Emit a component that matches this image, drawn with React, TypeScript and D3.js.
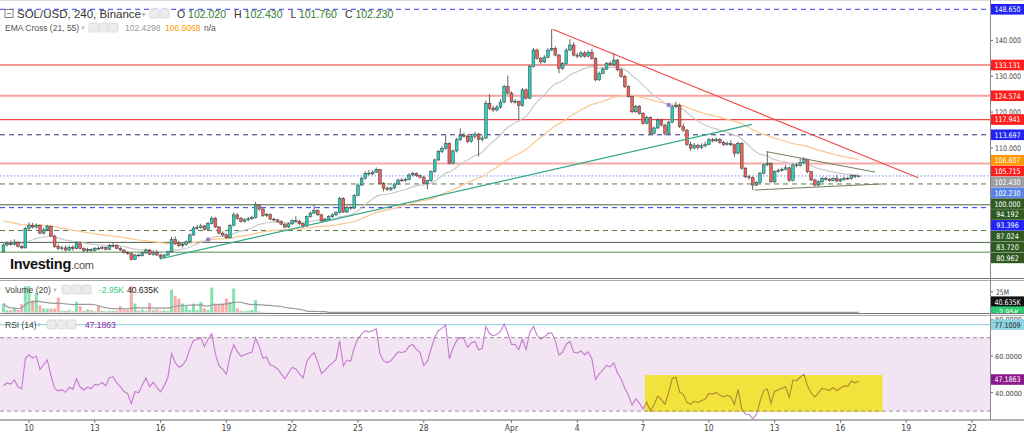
import React from "react";
import * as d3 from "d3";

// ---------- DATA ----------
const FIRST_CANDLE = Date.UTC(2022, 2, 8, 20); // first visible 4h candle
const STEP_MS = 4 * 3600 * 1000;

// [open, high, low, close] per 4h candle
const ohlc: number[][] = [
  [81.2,83.4,80.8,83.0],[83.0,84.0,82.6,83.4],[83.4,84.2,82.8,83.2],[83.2,84.6,82.9,83.8],[83.8,84.0,82.3,82.6],[82.6,82.9,81.9,82.2],
  [82.2,88.0,82.0,87.6],[87.6,89.3,87.2,88.5],[88.5,89.2,87.6,88.0],[88.0,89.0,87.5,88.4],[88.4,88.8,86.0,86.3],[86.3,87.8,85.9,87.2],
  [87.2,88.6,86.8,88.2],[88.2,88.4,85.2,85.5],[85.5,85.8,82.2,82.6],[82.6,83.2,81.6,82.0],[82.0,82.8,81.5,82.2],[82.2,82.9,81.2,81.6],
  [81.6,82.8,81.3,82.4],[82.4,82.9,81.4,82.0],[82.0,84.0,81.8,83.6],[83.6,84.0,81.7,82.0],[82.0,82.3,81.0,81.4],[81.4,82.2,81.0,81.8],
  [81.8,82.1,81.1,81.5],[81.5,82.4,81.2,82.1],[82.1,82.6,81.6,82.0],[82.0,82.7,81.7,82.3],[82.3,82.6,81.5,81.8],[81.8,83.3,81.6,82.8],
  [82.8,83.6,82.3,82.9],[82.9,83.2,81.8,82.1],[82.1,82.4,81.3,81.6],[81.6,81.9,80.6,80.9],[80.9,81.3,80.3,80.6],[80.6,80.8,78.6,79.0],
  [79.0,80.5,78.8,80.2],[80.2,80.6,79.7,80.0],[80.0,81.2,79.8,80.8],[80.8,82.0,80.5,81.6],[81.6,81.9,80.2,80.4],[80.4,81.3,80.0,80.9],
  [80.9,81.4,79.9,80.2],[80.2,80.5,79.0,79.6],[79.6,80.5,79.3,80.2],[80.2,81.4,79.9,81.1],[81.1,85.3,80.9,84.5],[84.5,85.4,83.0,83.4],
  [83.4,84.2,82.4,82.8],[82.8,83.6,82.3,83.1],[83.1,84.3,82.8,83.9],[83.9,86.2,83.6,85.8],[85.8,88.3,85.5,87.7],[87.7,88.6,87.2,87.9],
  [87.9,88.9,87.5,88.3],[88.3,88.6,87.0,87.4],[87.4,89.4,87.2,89.0],[89.0,91.0,88.7,90.4],[90.4,90.8,87.8,88.0],[88.0,88.3,86.0,86.3],
  [86.3,86.8,85.4,85.8],[85.8,86.2,84.7,85.0],[85.0,88.8,84.8,88.5],[88.5,92.0,88.2,91.4],[91.4,91.8,90.0,90.4],[90.4,90.8,89.2,89.6],
  [89.6,90.5,89.3,90.0],[90.0,90.8,89.6,90.3],[90.3,91.2,90.0,90.6],[90.6,95.0,90.4,94.2],[94.2,94.4,92.6,93.0],[93.0,93.3,90.8,91.2],
  [91.2,91.9,90.8,91.5],[91.5,91.8,89.9,90.2],[90.2,90.6,89.6,90.0],[90.0,90.3,89.2,89.6],[89.6,89.9,88.5,88.8],[88.8,89.1,87.6,88.0],
  [88.0,89.2,87.7,88.9],[88.9,90.1,88.6,89.8],[89.8,91.0,89.3,89.6],[89.6,90.0,88.6,88.9],[88.9,89.2,87.8,88.3],[88.3,91.2,88.0,90.9],
  [90.9,92.3,90.6,91.9],[91.9,94.2,91.6,92.6],[92.6,92.9,91.1,91.4],[91.4,91.7,89.3,89.7],[89.7,90.6,89.4,90.2],[90.2,91.3,89.9,90.9],
  [90.9,91.8,90.5,91.4],[91.4,92.4,91.0,92.0],[92.0,96.4,91.8,96.0],[96.0,96.3,91.9,92.2],[92.2,94.0,91.9,93.5],[93.5,94.0,92.8,93.3],
  [93.3,97.2,93.0,96.8],[96.8,100.2,96.5,99.7],[99.7,102.0,99.4,101.6],[101.6,103.5,101.2,103.0],[103.0,103.8,102.3,102.8],[102.8,103.8,102.5,103.3],
  [103.3,104.6,103.0,104.0],[104.0,104.2,99.9,100.2],[100.2,100.5,97.9,98.8],[98.8,99.3,98.1,98.5],[98.5,99.2,98.0,98.9],[98.9,100.3,98.6,100.0],
  [100.0,101.5,99.7,101.1],[101.1,101.6,100.6,101.0],[101.0,101.7,100.6,101.2],[101.2,103.0,101.0,102.5],[102.5,103.4,102.1,102.9],[102.9,103.2,102.0,102.3],
  [102.3,102.6,101.5,101.9],[101.9,102.2,99.9,100.2],[100.2,101.2,98.5,100.9],[100.9,103.8,100.6,103.4],[103.4,107.0,103.1,106.7],[106.7,109.5,106.4,109.0],
  [109.0,110.5,108.6,109.9],[109.9,113.6,109.6,111.3],[111.3,111.6,105.4,105.8],[105.8,109.6,105.5,109.2],[109.2,112.8,108.8,112.3],[112.3,115.5,112.0,113.6],
  [113.6,114.3,112.9,113.3],[113.3,113.8,111.4,111.8],[111.8,113.7,111.5,113.3],[113.3,114.5,112.6,113.9],[113.9,114.2,107.6,112.4],[112.4,113.5,111.8,112.8],
  [112.8,123.2,112.5,122.5],[122.5,125.0,120.6,121.1],[121.1,121.8,120.1,120.6],[120.6,122.0,120.2,121.4],[121.4,123.6,121.0,122.8],[122.8,127.6,122.5,127.1],
  [127.1,130.2,124.9,125.3],[125.3,125.8,122.5,122.9],[122.9,123.6,122.4,123.0],[123.0,123.3,117.8,121.9],[121.9,126.8,121.5,126.2],[126.2,126.6,123.5,123.9],
  [123.9,133.2,123.6,132.7],[132.7,137.9,132.4,137.3],[137.3,137.7,134.6,135.0],[135.0,135.4,133.5,134.0],[134.0,135.8,133.7,135.3],[135.3,137.8,135.0,137.3],
  [137.3,143.1,137.0,137.8],[137.8,138.3,135.5,135.9],[135.9,136.2,130.8,132.2],[132.2,134.0,131.8,133.5],[133.5,137.8,133.2,137.3],[137.3,140.3,137.0,138.7],
  [138.7,139.5,135.5,135.9],[135.9,136.5,135.0,135.6],[135.6,137.0,135.2,136.5],[136.5,137.0,135.2,135.6],[135.6,137.2,135.3,136.7],[136.7,137.6,134.6,135.0],
  [135.0,135.3,128.6,129.0],[129.0,131.3,128.7,130.8],[130.8,132.5,130.5,132.0],[132.0,134.0,131.7,133.6],[133.6,134.2,132.8,133.2],[133.2,136.4,132.9,134.5],
  [134.5,134.8,131.4,131.8],[131.8,132.2,129.6,130.0],[130.0,130.4,126.7,127.1],[127.1,127.5,124.0,124.3],[124.3,124.6,119.7,120.1],[120.1,122.0,119.8,121.6],
  [121.6,122.0,119.3,119.7],[119.7,120.0,116.5,116.9],[116.9,119.0,116.6,118.5],[118.5,118.8,113.7,114.1],[114.1,116.0,113.8,115.6],[115.6,118.3,115.3,117.8],
  [117.8,118.2,116.0,116.4],[116.4,116.8,113.5,114.1],[114.1,117.6,113.8,117.2],[117.2,121.9,116.9,121.5],[121.5,122.9,121.1,121.9],[121.9,122.4,115.6,116.0],
  [116.0,116.8,114.4,115.0],[115.0,115.3,110.6,111.0],[111.0,111.8,109.2,110.0],[110.0,111.4,109.6,110.8],[110.8,111.2,109.5,110.2],[110.2,111.3,109.7,110.6],
  [110.6,111.8,110.2,111.0],[111.0,112.8,110.8,112.3],[112.3,112.8,111.6,112.0],[112.0,113.0,111.7,112.4],[112.4,112.8,111.2,111.5],[111.5,112.0,110.6,111.0],
  [111.0,111.8,110.7,111.3],[111.3,112.2,110.5,110.9],[110.9,111.2,107.6,108.6],[108.6,111.8,108.3,111.3],[111.3,111.6,104.0,104.4],[104.4,104.7,101.6,102.0],
  [102.0,102.5,101.2,101.8],[101.8,102.1,98.3,99.7],[99.7,100.8,99.4,100.4],[100.4,103.4,100.1,103.0],[103.0,105.7,102.7,105.3],[105.3,109.0,105.0,105.7],
  [105.7,106.0,100.3,100.6],[100.6,103.8,100.3,103.4],[103.4,104.3,103.1,103.8],[103.8,104.6,103.4,104.1],[104.1,105.3,103.8,104.5],[104.5,104.8,100.6,101.0],
  [101.0,105.7,100.7,105.3],[105.3,105.8,104.6,105.1],[105.1,107.1,104.8,106.0],[106.0,107.4,105.6,106.8],[106.8,107.0,103.0,103.4],[103.4,103.7,100.8,101.1],
  [101.1,101.5,99.3,99.7],[99.7,101.0,99.2,100.6],[100.6,102.0,100.3,101.6],[101.6,102.0,100.9,101.3],[101.3,101.7,100.6,101.0],[101.0,101.9,100.7,101.5],
  [101.5,102.4,100.5,100.8],[100.8,101.6,100.6,101.2],[101.2,102.0,100.9,101.6],[101.6,101.9,101.1,101.5],[101.5,102.5,101.2,102.3],[102.3,102.5,101.6,102.02],
  [102.02,102.43,101.76,102.23],
];

// volume per candle, millions
const volumeM: number[] = [
  10.8,2.8,2.8,4.8,3.0,10.0,31.6,31.6,14.8,23.6,
  8.8,4.8,4.8,4.8,4.8,18.0,2.0,2.0,2.8,1.5,
  12.8,7.6,2.0,3.6,2.8,1.5,7.6,2.0,1.5,2.0,
  2.0,2.0,7.6,3.6,3.0,31.6,10.8,2.0,3.6,2.0,
  11.6,2.8,3.6,2.0,2.8,2.0,27.6,19.6,16.8,10.8,
  8.8,3.0,10.8,3.0,12.8,4.8,3.0,30.0,10.8,8.8,
  10.8,16.8,12.8,28.8,4.8,2.0,1.5,2.0,3.0,14.8,
  1.2,0.7,0.45,0.3,0.22,0.18,0.14,0.12,0.1,0.09,
  0.08,0.07,0.07,0.06,0.06,0.05,0.06,0.05,0.05,0.05,
  0.06,0.05,0.08,0.06,0.05,0.05,0.07,0.06,0.06,0.05,
  0.05,0.05,0.05,0.07,0.06,0.05,0.04,0.05,0.05,0.04,
  0.04,0.05,0.05,0.04,0.04,0.05,0.05,0.06,0.07,0.07,
  0.06,0.07,0.08,0.06,0.06,0.06,0.05,0.05,0.04,0.05,
  0.06,0.05,0.09,0.07,0.05,0.04,0.05,0.07,0.07,0.05,
  0.04,0.06,0.06,0.05,0.09,0.08,0.06,0.05,0.05,0.06,
  0.08,0.06,0.07,0.05,0.06,0.06,0.06,0.04,0.04,0.04,
  0.04,0.05,0.08,0.06,0.05,0.05,0.04,0.05,0.05,0.05,
  0.06,0.06,0.07,0.05,0.05,0.06,0.05,0.07,0.05,0.05,
  0.04,0.06,0.05,0.06,0.05,0.07,0.05,0.07,0.06,0.04,
  0.04,0.04,0.04,0.05,0.04,0.04,0.04,0.04,0.03,0.04,
  0.05,0.05,0.09,0.07,0.05,0.07,0.05,0.06,0.06,0.07,
  0.07,0.06,0.04,0.04,0.04,0.06,0.06,0.04,0.05,0.05,
  0.06,0.06,0.06,0.05,0.04,0.04,0.03,0.04,0.04,0.04,
  0.03,0.04,0.04,0.043,0.041,
];

const levelValues = [148.65, 133.131, 124.574, 117.941, 113.697, 105.715, 100.0, 94.192, 93.396, 87.024, 83.72, 80.962];
const ema21Last = 102.4298;
const ema55Last = 106.6068;
const lastOHLC = [102.02, 102.43, 101.76, 102.23];
const rsiLast = 47.1863;
const rsiUpper = 77.1009;
const volumeLast = "40.635K";
const volumeDelta = "-2.95K";
const priceTicks = [80, 90, 100, 110, 120, 130, 140, 150];
const rsiTicks = [40, 60, 80];
const volumeTicks = [25];
const dateTickLabels = ["10", "13", "16", "19", "22", "25", "28", "Apr", "4", "7", "10", "13", "16", "19", "22"];
const dateTickDates = ["2022-03-10", "2022-03-13", "2022-03-16", "2022-03-19", "2022-03-22", "2022-03-25", "2022-03-28",
  "2022-04-01", "2022-04-04", "2022-04-07", "2022-04-10", "2022-04-13", "2022-04-16", "2022-04-19", "2022-04-22"];
const resistanceLine: [string, number][] = [["2022-04-02T21:00:00Z", 143.1], ["2022-04-19T13:00:00Z", 101.7]];
const supportLine: [string, number][] = [["2022-03-15T23:00:00Z", 79.1], ["2022-04-11T23:00:00Z", 116.6]];
const triangleTop: [string, number][] = [["2022-04-12T15:00:00Z", 109.0], ["2022-04-17T14:00:00Z", 103.3]];
const triangleBottom: [string, number][] = [["2022-04-12T02:00:00Z", 98.3], ["2022-04-17T21:00:00Z", 100.0]];
const highlightTimes = ["2022-04-07T02:00:00Z", "2022-04-17T22:00:00Z"];
const highlightRsi = [29.5, 49.6];

// ---------- STYLE ----------
const UI = "'Liberation Sans', Arial, sans-serif";
const NARROW = "'Liberation Sans Narrow', 'DejaVu Sans Condensed', 'Liberation Sans', sans-serif";
const UP = "#2ad0ba";
const DOWN = "#f0625a";
const BLUE_B = "#1f24f2";
const RED_B = "#ff1f1f";
const GREEN_B = "#2f5a22";
const levelStyle = [
  { stroke: "#3b3bf0", w: 1, dash: "5,4", badge: BLUE_B },
  { stroke: "#e53935", w: 1, dash: null, badge: RED_B },
  { stroke: "#f6a0a0", w: 2, dash: null, badge: RED_B },
  { stroke: "#ee4a46", w: 1.2, dash: null, badge: RED_B },
  { stroke: "#2c2c7a", w: 1, dash: "5,4", badge: BLUE_B },
  { stroke: "#f6a8a8", w: 2, dash: null, badge: RED_B },
  { stroke: "#5c7a4c", w: 1, dash: "5,4", badge: GREEN_B },
  { stroke: "#4a6640", w: 1, dash: null, badge: GREEN_B },
  { stroke: "#2f2ff5", w: 1, dash: "5,4", badge: BLUE_B },
  { stroke: "#5c7a4c", w: 1, dash: "5,4", badge: GREEN_B },
  { stroke: "#4f5f45", w: 1, dash: null, badge: GREEN_B },
  { stroke: "#8fb08a", w: 1.5, dash: null, badge: GREEN_B },
];

function Icons({ x, y, n }: { x: number; y: number; n: number }) {
  return (
    <g>
      {d3.range(n).map((k) => (
        <rect key={k} x={x + k * 10} y={y} width={9} height={9} rx={1.5} fill="#ececec" stroke="#d4d4d4" strokeWidth={0.8} />
      ))}
    </g>
  );
}

function AxisText({ x, y, text, w, size = 7.6 }: { x: number; y: number; text: string; w: number; size?: number }) {
  return (
    <text x={x} y={y} fontSize={size} fill="#444" fontFamily={NARROW} textLength={w} lengthAdjust="spacingAndGlyphs">{text}</text>
  );
}

function Badge({ cy, text, bg, fg = "#fff" }: { cy: number; text: string; bg: string; fg?: string }) {
  const w = text.length * 3.75;
  return (
    <g>
      <rect x={991} y={cy - 5.3} width={33} height={10.6} fill={bg} />
      <text x={1007.5 - w / 2} y={cy + 2.9} fontSize={7.6} fill={fg} fontFamily={NARROW}
        textLength={w} lengthAdjust="spacingAndGlyphs">{text}</text>
    </g>
  );
}

export default function App() {
  const x = d3.scaleUtc()
    .domain([new Date("2022-03-10T00:00:00Z"), new Date("2022-04-22T00:00:00Z")])
    .range([29, 972]);
  const y = d3.scaleLinear().domain([80.962, 148.65]).range([252.3, 9.3]);
  const yVol = d3.scaleLinear().domain([0, 25]).range([312.5, 291.7]);
  const yRsi = d3.scaleLinear().domain([40, 60]).range([392.7, 356]);
  const tAt = (i: number) => new Date(FIRST_CANDLE + i * STEP_MS);
  const cxs = ohlc.map((_, i) => x(tAt(i)));

  const closes = ohlc.map((d) => d[3]);
  const ema = (seed: number, period: number) => {
    let e = seed;
    const k = 2 / (period + 1);
    return closes.map((c) => (e = e + k * (c - e)));
  };
  const ema21 = ema(83.5, 21);
  const ema55 = ema(90.0, 55);

  let ag = 0.45, al = 0.75, prev = ohlc[0][0];
  const rsi = closes.map((c) => {
    const ch = c - prev;
    prev = c;
    ag = (ag * 13 + Math.max(ch, 0)) / 14;
    al = (al * 13 + Math.max(-ch, 0)) / 14;
    return 100 - 100 / (1 + ag / al);
  });

  const volMA = volumeM.map((_, i) => d3.mean(volumeM.slice(Math.max(0, i - 19), i + 1)) as number);

  const crosses: number[] = [];
  for (let i = 1; i < closes.length; i++) {
    if (Math.sign(ema21[i] - ema55[i]) !== Math.sign(ema21[i - 1] - ema55[i - 1])) crosses.push(i);
  }

  const line = d3.line<number>().x((_, i) => cxs[i]).y((v) => y(v));
  const rsiLine = d3.line<number>().x((_, i) => cxs[i]).y((v) => yRsi(v));
  const volLine = d3.line<number>().x((_, i) => cxs[i]).y((v) => yVol(v));
  const seg = (pts: [string, number][]) => ({
    x1: x(new Date(pts[0][0])), y1: y(pts[0][1]), x2: x(new Date(pts[1][0])), y2: y(pts[1][1]),
  });

  // price badges (stacked)
  const badgeItems = [
    ...levelValues.map((v, i) => ({ v, bg: levelStyle[i].badge })),
    { v: ema55Last, bg: "#ff9800" },
    { v: ema21Last, bg: "#9e9e9e" },
    { v: lastOHLC[3], bg: "#5a84e6" },
  ].sort((a, b) => b.v - a.v);
  let prevCy = -100;
  const badges = badgeItems.map((b) => {
    const cy = Math.max(y(b.v), prevCy + 10.85);
    prevCy = cy;
    return { ...b, cy };
  });
  // tick labels that lie fully under a badge are not visible
  const visibleTicks = priceTicks.filter((p) => badges.every((b) => Math.abs(b.cy - y(p)) > 5.5));

  const hx0 = x(new Date(highlightTimes[0]));
  const hx1 = x(new Date(highlightTimes[1]));

  return (
    <div style={{ position: "fixed", left: 0, top: 0, width: 1024, height: 433, background: "#fff" }}>
      <svg width={1024} height={433} style={{ display: "block" }} fontFamily={UI}>
        <defs>
          <clipPath id="mainClip"><rect x={0} y={0} width={990} height={278} /></clipPath>
          <clipPath id="volClip"><rect x={0} y={281} width={1024} height={32.5} /></clipPath>
          <clipPath id="rsiClip"><rect x={0} y={316} width={990} height={103} /></clipPath>
          <clipPath id="hlClip"><rect x={hx0} y={yRsi(highlightRsi[1])} width={hx1 - hx0} height={yRsi(highlightRsi[0]) - yRsi(highlightRsi[1])} /></clipPath>
        </defs>
        <rect x={0} y={0} width={1024} height={433} fill="#fff" />
        <line x1={0} x2={1024} y1={0.5} y2={0.5} stroke="#dcdcdc" />

        {/* MAIN PANE */}
        <g clipPath="url(#mainClip)">
          {levelValues.map((v, i) => (
            <line key={i} x1={0} x2={990} y1={y(v)} y2={y(v)} stroke={levelStyle[i].stroke}
              strokeWidth={levelStyle[i].w} strokeDasharray={levelStyle[i].dash || undefined} />
          ))}
          <line x1={0} x2={990} y1={y(lastOHLC[3])} y2={y(lastOHLC[3])} stroke="#6d8df0" strokeDasharray="1.5,2" />
          <path d={line(ema55) || ""} fill="none" stroke="#fbc58e" strokeWidth={1.2} />
          <path d={line(ema21) || ""} fill="none" stroke="#c9c9c9" strokeWidth={1.2} />
          {ohlc.map((d, i) => {
            const [o, h, l, c] = d;
            const up = c >= o;
            const top = y(Math.max(o, c));
            const bot = y(Math.min(o, c));
            return (
              <g key={i}>
                <line x1={cxs[i]} x2={cxs[i]} y1={y(h)} y2={y(l)} stroke="#555" strokeWidth={0.9} />
                <rect x={cxs[i] - 1.4} y={top} width={2.8} height={Math.max(bot - top, 0.8)}
                  fill={up ? UP : DOWN} stroke="#3a3a3a" strokeWidth={0.5} />
              </g>
            );
          })}
          {crosses.map((i) => (
            <circle key={i} cx={cxs[i]} cy={y(ema21[i])} r={2.2} fill="#7b6fe0" opacity={0.85} />
          ))}
          <line {...seg(supportLine)} stroke="#35a98a" strokeWidth={1.2} />
          <line {...seg(resistanceLine)} stroke="#f04848" strokeWidth={1.1} />
          <line {...seg(triangleTop)} stroke="#6f7f62" strokeWidth={1} />
          <line {...seg(triangleBottom)} stroke="#6f7f62" strokeWidth={1} />
          <text x={10} y={269} fontSize={14.5} fontWeight="bold" fill="#111" fontFamily={UI} letterSpacing={-0.3}>
            Investing<tspan fontSize={11} fontWeight="normal" fill="#555">.com</tspan>
          </text>
        </g>

        {/* header */}
        <rect x={5} y={9.5} width={8} height={8} fill="none" stroke="#777" strokeWidth={0.9} />
        <line x1={7} x2={11} y1={13.5} y2={13.5} stroke="#777" strokeWidth={0.9} />
        <text x={17} y={18} fontSize={11.5} fill="#333">SOL/USD, 240, Binance</text>
        <text x={140} y={17} fontSize={7} fill="#bbb">▼</text>
        <Icons x={150} y={9} n={2} />
        <text x={177} y={18} fontSize={10.5} fill="#333">
          O <tspan fill="#2f7d32">{lastOHLC[0].toFixed(3)}</tspan>
          <tspan dx={8}>H </tspan><tspan fill="#2f7d32">{lastOHLC[1].toFixed(3)}</tspan>
          <tspan dx={8}>L </tspan><tspan fill="#2f7d32">{lastOHLC[2].toFixed(3)}</tspan>
          <tspan dx={8}>C </tspan><tspan fill="#2f7d32">{lastOHLC[3].toFixed(3)}</tspan>
        </text>
        <text x={5} y={31} fontSize={8.5} fill="#555">EMA Cross (21, 55)</text>
        <text x={80} y={30} fontSize={6} fill="#bbb">▼</text>
        <Icons x={89} y={23} n={3} />
        <text x={125} y={31} fontSize={8.5} fill="#999">{ema21Last.toFixed(4)}</text>
        <text x={165} y={31} fontSize={8.5} fill="#ff9800">{ema55Last.toFixed(4)}</text>
        <text x={204} y={31} fontSize={8.5} fill="#555">n/a</text>

        {/* right price axis */}
        {priceTicks.map((p) => (
          <line key={p} x1={990} x2={993} y1={y(p)} y2={y(p)} stroke="#666" />
        ))}
        {visibleTicks.map((p) => (
          <AxisText key={p} x={995} y={y(p) + 3} text={p.toFixed(3)} w={26} />
        ))}
        {badges.map((b, i) => (
          <Badge key={i} cy={b.cy} text={b.v.toFixed(3)} bg={b.bg} />
        ))}

        {/* separators */}
        <line x1={0} x2={1024} y1={278.5} y2={278.5} stroke="#777" />
        <line x1={0} x2={1024} y1={280.5} y2={280.5} stroke="#aaa" />

        {/* VOLUME PANE */}
        <g clipPath="url(#volClip)">
          <g>
            {volumeM.map((v, i) => {
              const d = ohlc[i];
              return (
                <rect key={i} x={cxs[i] - 1.5} y={yVol(v)} width={3} height={yVol(0) - yVol(v)}
                  fill={d[3] >= d[0] ? "#8ae0b0" : "#f7acac"} />
              );
            })}
          </g>
          <path d={volLine(volMA) || ""} fill="none" stroke="#999" strokeWidth={1.2} />
          {volumeTicks.map((v) => (
            <g key={v}>
              <line x1={990} x2={993} y1={yVol(v)} y2={yVol(v)} stroke="#666" />
              <AxisText x={996} y={yVol(v) + 3} text={`${v}M`} w={13} />
            </g>
          ))}
          <Badge cy={yVol(25) + 10} text={volumeLast} bg="#111" />
          <Badge cy={yVol(25) + 20} text={volumeDelta} bg="#2ecc71" />
        </g>
        <text x={5} y={293} fontSize={8.5} fill="#444">Volume (20)</text>
        <text x={52} y={292} fontSize={6} fill="#bbb">▼</text>
        <Icons x={62} y={285} n={3} />
        <text x={99} y={293} fontSize={8.5} fill="#2ecc71">{volumeDelta}</text>
        <text x={127} y={293} fontSize={8.5} fill="#222">{volumeLast}</text>

        <line x1={0} x2={1024} y1={313.5} y2={313.5} stroke="#777" />
        <line x1={0} x2={1024} y1={315.5} y2={315.5} stroke="#aaa" />

        {/* RSI PANE */}
        <g clipPath="url(#rsiClip)">
          <rect x={0} y={yRsi(70)} width={990} height={yRsi(30) - yRsi(70)} fill="#f2e4f2" />
          <line x1={0} x2={990} y1={yRsi(rsiUpper)} y2={yRsi(rsiUpper)} stroke="#9fd8e2" strokeWidth={1.3} />
          <path d={rsiLine(rsi) || ""} fill="none" stroke="#c47bcf" strokeWidth={1.1} />
          <rect x={hx0} y={yRsi(highlightRsi[1])} width={hx1 - hx0} height={yRsi(highlightRsi[0]) - yRsi(highlightRsi[1])} fill="#f1e33c" />
          <g clipPath="url(#hlClip)">
            <path d={rsiLine(rsi) || ""} fill="none" stroke="#b3862e" strokeWidth={1.1} />
          </g>
          <line x1={0} x2={990} y1={yRsi(70)} y2={yRsi(70)} stroke="#9a8e9a" strokeDasharray="4,3" />
          <line x1={0} x2={990} y1={yRsi(30)} y2={yRsi(30)} stroke="#9a8e9a" strokeDasharray="4,3" />
        </g>
        {rsiTicks.map((v) => (
          <g key={v}>
            <line x1={990} x2={993} y1={yRsi(v)} y2={yRsi(v)} stroke="#666" />
            <AxisText x={995} y={yRsi(v) + 3} text={v.toFixed(4)} w={27} size={7} />
          </g>
        ))}
        <Badge cy={yRsi(rsiUpper)} text={rsiUpper.toFixed(4)} bg="#8fd3e0" fg="#222" />
        <Badge cy={yRsi(rsiLast)} text={rsiLast.toFixed(4)} bg="#8b1a8b" />
        <text x={5} y={328} fontSize={8.5} fill="#444">RSI (14)</text>
        <text x={36} y={327} fontSize={6} fill="#bbb">▼</text>
        <Icons x={47} y={320} n={3} />
        <text x={85} y={328} fontSize={8.5} fill="#8e24aa">{rsiLast.toFixed(4)}</text>

        {/* axes frame */}
        <line x1={990.5} x2={990.5} y1={0} y2={420} stroke="#888" />
        <line x1={0} x2={1024} y1={420} y2={420} stroke="#999" strokeWidth={1.5} />

        {/* date axis */}
        {dateTickDates.map((d, i) => {
          const tx = x(new Date(d + "T00:00:00Z"));
          return (
            <g key={d}>
              <line x1={tx} x2={tx} y1={420} y2={423} stroke="#777" />
              <text x={tx} y={431} textAnchor="middle" fontSize={8.5} fill="#444" fontFamily={NARROW}>{dateTickLabels[i]}</text>
            </g>
          );
        })}
      </svg>
    </div>
  );
}
